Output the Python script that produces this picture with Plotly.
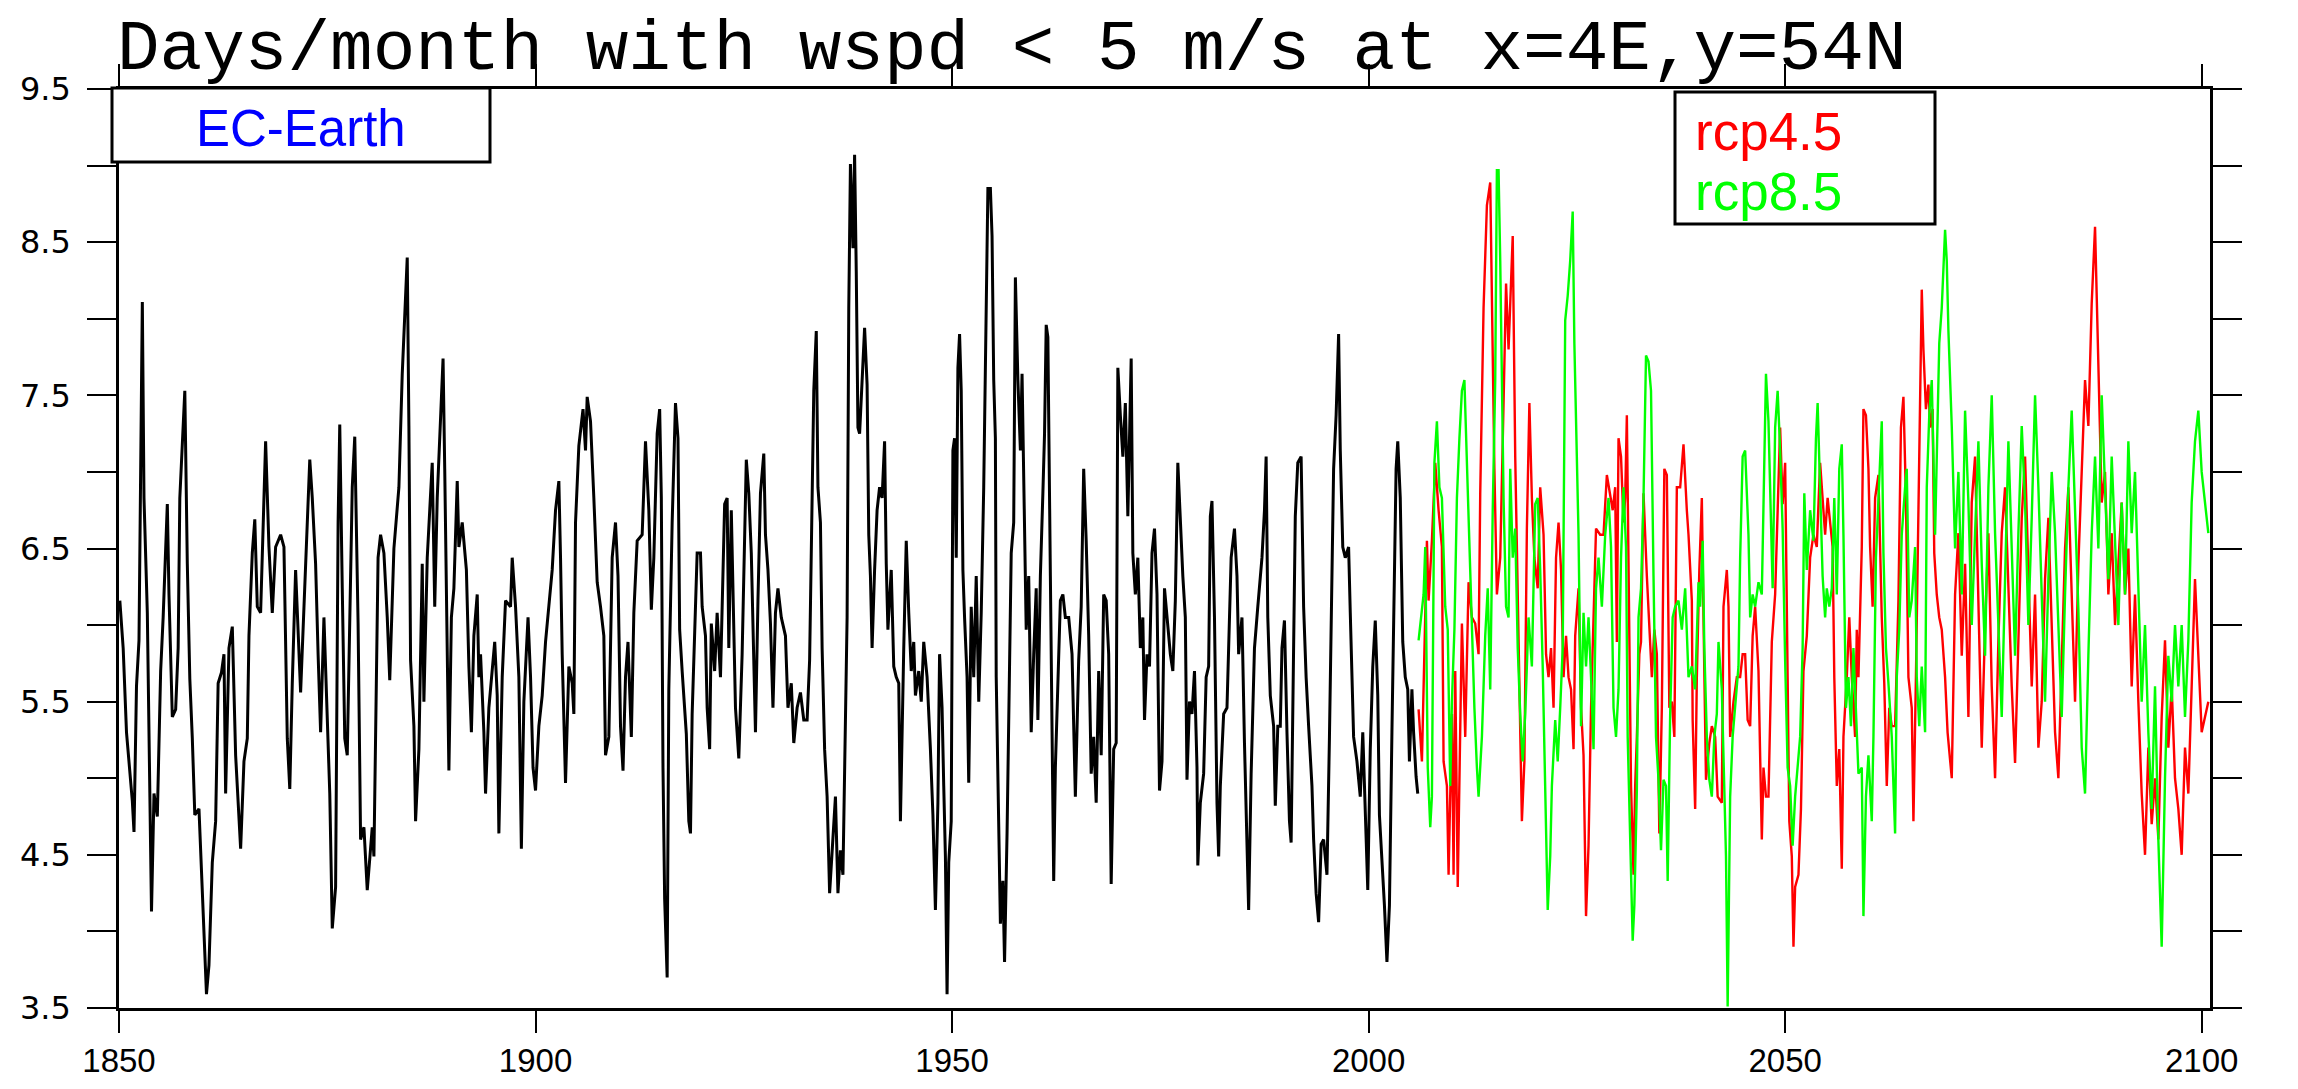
import plotly.graph_objects as go

# ---------------- data ----------------
hist_years = [
    1850.1, 1850.5, 1850.9, 1851.2, 1851.6, 1851.8, 1852.1, 1852.4, 1852.6, 1852.8, 1853.0, 1853.4, 1853.9, 1854.2, 1854.6,
    1855.0, 1855.3, 1855.8, 1856.0, 1856.4, 1856.8, 1857.1, 1857.3, 1857.9, 1858.2, 1858.5, 1858.8, 1859.1, 1859.6, 1859.9,
    1860.2, 1860.5, 1860.8, 1861.2, 1861.6, 1861.9, 1862.3, 1862.6, 1862.8, 1863.2, 1863.6, 1864.0, 1864.6, 1865.0, 1865.4,
    1865.6, 1866.0, 1866.3, 1866.6, 1867.0, 1867.6, 1868.0, 1868.4, 1868.8, 1869.4, 1869.8, 1870.2, 1870.5, 1870.8, 1871.2,
    1871.8, 1872.2, 1872.9, 1873.2, 1873.6, 1873.9, 1874.2, 1874.6, 1875.0, 1875.3, 1875.6, 1876.0, 1876.3, 1876.5, 1876.8,
    1877.1, 1877.4, 1877.7, 1878.0, 1878.3, 1878.5, 1878.7, 1879.0, 1879.4, 1879.8, 1880.4, 1880.6, 1880.8, 1881.1, 1881.4,
    1881.8, 1882.2, 1882.5, 1883.0, 1883.6, 1884.0, 1884.6, 1884.8, 1885.0, 1885.4, 1885.6, 1886.0, 1886.2, 1886.4, 1886.6,
    1887.0, 1887.6, 1887.9, 1888.2, 1888.6, 1888.9, 1889.1, 1889.3, 1889.6, 1889.9, 1890.2, 1890.6, 1890.8, 1891.2, 1891.7,
    1892.0, 1892.3, 1892.6, 1893.0, 1893.2, 1893.4, 1893.8, 1894.0, 1894.4, 1894.8, 1895.1, 1895.4, 1895.6, 1896.0, 1896.4,
    1897.0, 1897.2, 1897.6, 1898.0, 1898.3, 1898.6, 1899.1, 1899.4, 1899.7, 1900.0, 1900.4, 1900.8, 1901.2, 1901.6, 1902.0,
    1902.4, 1902.8, 1903.0, 1903.2, 1903.6, 1904.0, 1904.4, 1904.6, 1904.8, 1905.2, 1905.7, 1906.0, 1906.2, 1906.6, 1907.0,
    1907.4, 1907.8, 1908.2, 1908.4, 1908.8, 1909.2, 1909.6, 1909.9, 1910.2, 1910.5, 1910.8, 1911.1, 1911.5, 1911.8, 1912.2,
    1912.8, 1913.2, 1913.6, 1913.9, 1914.2, 1914.6, 1914.9, 1915.1, 1915.3, 1915.5, 1915.8, 1916.0, 1916.4, 1916.8, 1917.1,
    1917.3, 1917.6, 1918.1, 1918.4, 1918.6, 1918.8, 1919.1, 1919.4, 1919.8, 1920.0, 1920.4, 1920.6, 1920.9, 1921.1, 1921.5,
    1921.8, 1922.2, 1922.7, 1923.0, 1923.2, 1923.5, 1923.8, 1924.0, 1924.4, 1924.8, 1925.3, 1925.6, 1925.9, 1926.2, 1926.4,
    1926.7, 1927.0, 1927.4, 1927.6, 1927.9, 1928.2, 1928.5, 1928.8, 1929.1, 1929.5, 1930.0, 1930.3, 1930.7, 1931.0, 1931.4,
    1931.8, 1932.2, 1932.6, 1932.9, 1933.1, 1933.4, 1933.7, 1933.9, 1934.2, 1934.4, 1934.7, 1935.0, 1935.3, 1935.6, 1936.0,
    1936.3, 1936.6, 1936.9, 1937.1, 1937.4, 1937.6, 1937.8, 1938.1, 1938.3, 1938.5, 1938.7, 1938.9, 1939.2, 1939.5, 1939.8,
    1940.0, 1940.2, 1940.4, 1940.7, 1941.0, 1941.3, 1941.6, 1941.9, 1942.1, 1942.3, 1942.7, 1943.0, 1943.3, 1943.6, 1943.8,
    1944.2, 1944.5, 1944.8, 1945.1, 1945.4, 1945.6, 1946.0, 1946.3, 1946.6, 1947.0, 1947.4, 1947.7, 1948.0, 1948.3, 1948.5,
    1948.8, 1949.0, 1949.2, 1949.4, 1949.6, 1949.9, 1950.1, 1950.3, 1950.5, 1950.7, 1950.9, 1951.1, 1951.3, 1951.5, 1951.8,
    1952.0, 1952.3, 1952.6, 1952.9, 1953.2, 1953.5, 1953.8, 1954.1, 1954.3, 1954.6, 1954.8, 1955.0, 1955.2, 1955.3, 1955.6,
    1955.8, 1956.1, 1956.3, 1956.6, 1956.9, 1957.1, 1957.4, 1957.6, 1957.9, 1958.2, 1958.4, 1958.6, 1958.9, 1959.2, 1959.5,
    1959.8, 1960.1, 1960.3, 1960.6, 1960.9, 1961.1, 1961.3, 1961.5, 1961.8, 1962.0, 1962.2, 1962.4, 1962.7, 1963.0, 1963.3,
    1963.6, 1964.0, 1964.4, 1964.8, 1965.2, 1965.5, 1965.8, 1966.1, 1966.4, 1966.7, 1967.0, 1967.3, 1967.6, 1967.9, 1968.2,
    1968.5, 1968.8, 1969.1, 1969.4, 1969.7, 1969.9, 1970.2, 1970.5, 1970.8, 1971.1, 1971.5, 1971.7, 1972.0, 1972.3, 1972.6,
    1972.9, 1973.1, 1973.4, 1973.7, 1974.0, 1974.3, 1974.6, 1974.9, 1975.2, 1975.5, 1975.9, 1976.2, 1976.5, 1976.8, 1977.1,
    1977.4, 1977.7, 1978.0, 1978.2, 1978.5, 1978.8, 1979.1, 1979.4, 1979.5, 1979.8, 1980.2, 1980.5, 1980.8, 1981.0, 1981.2,
    1981.5, 1981.8, 1982.0, 1982.2, 1982.6, 1983.0, 1983.3, 1983.5, 1983.9, 1984.2, 1984.4, 1984.8, 1985.1, 1985.4, 1985.6,
    1985.9, 1986.3, 1986.7, 1987.2, 1987.5, 1987.7, 1987.9, 1988.2, 1988.6, 1988.8, 1989.1, 1989.4, 1989.6, 1989.9, 1990.2,
    1990.5, 1990.7, 1990.9, 1991.2, 1991.5, 1991.9, 1992.2, 1992.5, 1992.8, 1993.2, 1993.4, 1993.7, 1994.0, 1994.3, 1994.6,
    1995.0, 1995.3, 1995.5, 1995.8, 1996.1, 1996.4, 1996.6, 1996.9, 1997.2, 1997.6, 1997.8, 1998.2, 1998.6, 1999.0, 1999.3,
    1999.6, 1999.9, 2000.2, 2000.5, 2000.8, 2001.1, 2001.3, 2001.6, 2001.9, 2002.2, 2002.5, 2002.8, 2003.1, 2003.3, 2003.5,
    2003.8, 2004.1, 2004.4, 2004.7, 2004.9, 2005.2, 2005.4, 2005.7, 2005.9,
]
hist_values = [
    6.16, 5.85, 5.30, 5.10, 4.85, 4.65, 5.60, 5.90, 6.87, 8.11, 6.83, 6.08, 4.13, 4.90, 4.75,
    5.70, 6.05, 6.79, 6.20, 5.40, 5.45, 5.85, 6.83, 7.53, 6.40, 5.65, 5.26, 4.76, 4.80, 4.37,
    3.90, 3.59, 3.78, 4.45, 4.72, 5.62, 5.69, 5.81, 4.90, 5.85, 5.99, 5.15, 4.54, 5.11, 5.26,
    5.93, 6.47, 6.69, 6.12, 6.08, 7.20, 6.51, 6.08, 6.51, 6.59, 6.51, 5.26, 4.93, 5.62, 6.36,
    5.56, 6.16, 7.08, 6.83, 6.40, 5.81, 5.30, 6.05, 5.30, 4.90, 4.02, 4.29, 6.67, 7.31, 6.24,
    5.26, 5.15, 6.00, 6.90, 7.23, 6.71, 6.01, 4.60, 4.68, 4.27, 4.68, 4.49, 5.30, 6.44, 6.59,
    6.47, 6.05, 5.64, 6.50, 6.90, 7.64, 8.40, 7.30, 5.77, 5.34, 4.72, 5.19, 5.89, 6.40, 5.50,
    6.44, 7.06, 6.12, 6.83, 7.31, 7.74, 7.02, 6.12, 5.05, 6.05, 6.24, 6.94, 6.51, 6.67, 6.36,
    5.73, 5.30, 5.93, 6.20, 5.66, 5.81, 5.30, 4.90, 5.46, 5.73, 5.89, 5.54, 4.64, 5.66, 6.16,
    6.12, 6.44, 6.12, 5.66, 4.54, 5.50, 6.05, 5.66, 5.07, 4.92, 5.34, 5.54, 5.89, 6.12, 6.36,
    6.75, 6.94, 6.44, 5.81, 4.97, 5.73, 5.62, 5.42, 6.67, 7.17, 7.41, 7.14, 7.49, 7.33, 6.83,
    6.28, 6.12, 5.93, 5.15, 5.27, 6.44, 6.67, 6.32, 5.34, 5.05, 5.66, 5.89, 5.27, 6.08, 6.55,
    6.59, 7.20, 6.75, 6.10, 6.44, 7.25, 7.41, 6.83, 5.07, 4.21, 3.70, 5.58, 6.67, 7.45, 7.22,
    5.97, 5.70, 5.29, 4.72, 4.64, 5.42, 5.93, 6.47, 6.47, 6.12, 5.93, 5.46, 5.19, 6.01, 5.70,
    6.08, 5.66, 6.79, 6.83, 5.85, 6.75, 5.93, 5.46, 5.13, 5.81, 7.08, 6.86, 6.47, 5.66, 5.30,
    6.16, 6.86, 7.12, 6.59, 6.36, 6.01, 5.46, 6.08, 6.24, 6.05, 5.93, 5.46, 5.62, 5.23, 5.46,
    5.56, 5.38, 5.38, 5.77, 6.47, 7.53, 7.92, 6.90, 6.67, 5.85, 5.19, 4.88, 4.25, 4.56, 4.88,
    4.25, 4.53, 4.37, 4.95, 6.05, 8.07, 9.01, 8.46, 9.07, 8.31, 7.29, 7.25, 7.60, 7.94, 7.57,
    6.59, 6.32, 5.85, 6.36, 6.75, 6.90, 6.83, 7.20, 6.40, 5.97, 6.36, 5.73, 5.66, 5.62, 4.72,
    5.85, 6.55, 6.08, 5.70, 5.89, 5.54, 5.70, 5.50, 5.89, 5.66, 5.19, 4.76, 4.14, 4.84, 5.81,
    5.46, 4.95, 4.49, 3.59, 4.45, 4.72, 7.14, 7.22, 6.44, 7.68, 7.90, 7.53, 6.36, 6.05, 5.66,
    4.97, 6.12, 5.66, 6.32, 5.50, 6.08, 6.90, 7.99, 8.85, 8.85, 8.54, 7.60, 7.22, 5.66, 4.68,
    4.05, 4.33, 3.80, 4.64, 5.73, 6.47, 6.67, 8.27, 7.60, 7.14, 7.64, 6.83, 5.97, 6.32, 5.30,
    5.81, 6.24, 5.38, 6.32, 6.86, 7.25, 7.96, 7.88, 6.32, 5.27, 4.33, 5.07, 5.58, 6.16, 6.20,
    6.05, 6.05, 5.81, 4.88, 5.77, 6.12, 7.02, 6.55, 5.93, 5.03, 5.27, 4.84, 5.70, 5.15, 6.20,
    6.16, 5.81, 4.31, 5.19, 5.23, 7.68, 7.37, 7.10, 7.45, 6.71, 7.74, 6.47, 6.20, 6.44, 5.85,
    6.05, 5.38, 5.81, 5.73, 6.47, 6.63, 6.20, 4.92, 5.11, 6.24, 5.97, 5.81, 5.70, 6.16, 7.06,
    6.67, 6.32, 6.05, 4.99, 5.50, 5.42, 5.70, 5.07, 4.43, 4.84, 5.03, 5.66, 5.73, 6.71, 6.81,
    6.05, 4.84, 4.49, 4.95, 5.42, 5.46, 6.12, 6.44, 6.63, 6.32, 5.81, 6.05, 5.23, 4.53, 4.14,
    5.03, 5.85, 6.12, 6.44, 6.75, 7.10, 6.05, 5.54, 5.34, 4.82, 5.34, 5.34, 5.85, 6.03, 5.30,
    4.72, 4.58, 5.42, 6.71, 7.06, 7.10, 6.12, 5.66, 5.34, 4.95, 4.60, 4.25, 4.06, 4.57, 4.60,
    4.37, 5.27, 5.93, 7.02, 7.37, 7.90, 7.14, 6.51, 6.44, 6.51, 6.08, 5.27, 5.11, 4.88, 5.30,
    4.84, 4.27, 5.19, 5.73, 6.03, 5.54, 4.76, 4.49, 4.17, 3.80, 4.17, 5.30, 6.24, 7.02, 7.20,
    6.83, 5.89, 5.66, 5.58, 5.11, 5.58, 5.30, 5.01, 4.90,
]

rcp45_years = [
    2006.0, 2006.4, 2007.0, 2007.2, 2007.6, 2008.0, 2008.4, 2008.8, 2009.0, 2009.4, 2009.6, 2010.0, 2010.2, 2010.4, 2010.7,
    2011.0, 2011.2, 2011.6, 2012.0, 2012.4, 2012.8, 2013.2, 2013.4, 2013.8, 2014.2, 2014.6, 2014.9, 2015.1, 2015.4, 2015.8,
    2016.2, 2016.5, 2016.8, 2017.0, 2017.3, 2017.6, 2017.9, 2018.2, 2018.4, 2018.7, 2019.0, 2019.3, 2019.6, 2019.9, 2020.3,
    2020.6, 2021.0, 2021.3, 2021.6, 2021.9, 2022.2, 2022.5, 2022.8, 2023.1, 2023.4, 2023.7, 2024.0, 2024.3, 2024.6, 2024.8,
    2025.2, 2025.5, 2025.8, 2026.1, 2026.4, 2026.7, 2027.0, 2027.3, 2027.8, 2028.2, 2028.6, 2029.0, 2029.3, 2029.6, 2029.8,
    2030.0, 2030.3, 2030.6, 2030.8, 2031.0, 2031.2, 2031.5, 2031.8, 2032.0, 2032.2, 2032.5, 2032.7, 2033.0, 2033.4, 2033.7,
    2034.0, 2034.3, 2034.6, 2034.9, 2035.2, 2035.5, 2035.8, 2036.1, 2036.4, 2036.7, 2037.0, 2037.4, 2037.8, 2038.2, 2038.4,
    2038.8, 2038.9, 2039.2, 2039.4, 2039.7, 2040.0, 2040.2, 2040.5, 2040.9, 2041.2, 2041.6, 2041.9, 2042.4, 2042.6, 2043.0,
    2043.2, 2043.4, 2043.8, 2044.2, 2044.6, 2044.9, 2045.2, 2045.5, 2045.8, 2046.1, 2046.4, 2046.8, 2047.2, 2047.4, 2047.7,
    2048.0, 2048.4, 2048.8, 2049.2, 2049.4, 2049.7, 2050.0, 2050.3, 2050.5, 2050.8, 2051.0, 2051.2, 2051.6, 2051.9, 2052.2,
    2052.6, 2053.0, 2053.4, 2053.8, 2054.2, 2054.5, 2054.8, 2055.1, 2055.4, 2055.7, 2055.9, 2056.2, 2056.5, 2056.8, 2057.0,
    2057.4, 2057.7, 2058.0, 2058.4, 2058.6, 2058.8, 2059.2, 2059.4, 2059.7, 2060.0, 2060.2, 2060.5, 2060.8, 2061.2, 2061.6,
    2061.9, 2062.2, 2062.5, 2062.8, 2063.2, 2063.6, 2063.9, 2064.2, 2064.5, 2064.8, 2065.2, 2065.4, 2065.7, 2066.0, 2066.4,
    2066.6, 2066.9, 2067.2, 2067.4, 2067.7, 2067.9, 2068.2, 2068.5, 2068.8, 2069.2, 2069.5, 2070.0, 2070.4, 2070.8, 2071.2,
    2071.6, 2072.0, 2072.4, 2072.8, 2073.2, 2073.6, 2074.0, 2074.4, 2074.8, 2075.2, 2075.6, 2076.0, 2076.4, 2076.8, 2077.2,
    2077.6, 2078.0, 2078.4, 2078.8, 2079.2, 2079.6, 2080.0, 2080.4, 2080.8, 2081.2, 2081.6, 2082.0, 2082.4, 2082.8, 2083.2,
    2083.6, 2084.0, 2084.4, 2084.8, 2085.2, 2085.6, 2086.0, 2086.4, 2086.8, 2087.2, 2087.6, 2088.0, 2088.4, 2088.8, 2089.2,
    2089.6, 2090.0, 2090.4, 2090.8, 2091.2, 2091.6, 2092.0, 2092.4, 2092.8, 2093.2, 2093.6, 2094.0, 2094.4, 2094.8, 2095.2,
    2095.6, 2096.0, 2096.4, 2096.8, 2097.2, 2097.6, 2098.0, 2098.4, 2098.8, 2099.2, 2099.6, 2100.0, 2100.8,
]
rcp45_values = [
    5.45, 5.11, 6.55, 6.16, 6.55, 7.06, 6.75, 6.51, 5.11, 4.95, 4.37, 5.42, 4.37, 5.70, 4.29,
    5.27, 6.01, 5.27, 6.28, 6.05, 6.01, 5.81, 6.86, 8.07, 8.74, 8.89, 7.72, 7.02, 6.20, 6.44,
    7.45, 8.23, 7.80, 8.07, 8.54, 7.10, 6.24, 5.19, 4.72, 5.11, 6.63, 7.45, 6.83, 6.44, 6.24,
    6.90, 6.59, 5.81, 5.66, 5.85, 5.46, 6.44, 6.67, 6.36, 5.66, 5.93, 5.66, 5.58, 5.19, 5.93,
    6.24, 5.46, 5.15, 4.10, 4.56, 5.46, 6.12, 6.63, 6.59, 6.59, 6.98, 6.86, 6.75, 6.90, 5.89,
    7.22, 7.10, 6.67, 6.83, 7.37, 6.44, 4.95, 4.37, 4.95, 5.27, 5.81, 5.89, 6.86, 6.32, 5.97,
    5.66, 5.97, 5.81, 4.64, 5.46, 7.02, 6.98, 5.46, 5.50, 5.27, 6.90, 6.90, 7.18, 6.75, 6.59,
    6.16, 5.38, 4.80, 5.66, 6.36, 6.83, 6.05, 4.99, 5.23, 5.34, 5.27, 4.88, 4.84, 6.12, 6.36,
    6.12, 5.27, 5.50, 5.66, 5.66, 5.81, 5.81, 5.38, 5.34, 5.93, 6.12, 5.70, 4.60, 5.07, 4.88,
    4.88, 5.89, 6.20, 6.98, 7.29, 6.79, 7.06, 5.66, 4.72, 4.49, 3.90, 4.29, 4.37, 4.80, 5.70,
    5.93, 6.44, 6.59, 6.51, 7.06, 6.83, 6.59, 6.83, 6.67, 6.51, 5.66, 4.95, 5.19, 4.41, 5.27,
    5.66, 6.05, 5.66, 5.27, 5.97, 5.66, 6.51, 7.41, 7.37, 7.02, 6.51, 6.12, 6.83, 6.98, 6.05,
    5.62, 4.95, 5.46, 5.34, 5.34, 6.16, 7.29, 7.49, 6.83, 5.66, 5.46, 4.72, 5.66, 6.83, 8.19,
    7.80, 7.41, 7.57, 7.29, 7.41, 6.47, 6.20, 6.05, 5.97, 5.66, 5.30, 5.00, 6.20, 6.60, 5.80,
    6.40, 5.40, 6.80, 7.10, 6.20, 5.20, 6.00, 6.60, 5.60, 5.00, 5.90, 6.60, 6.90, 6.20, 5.60,
    5.10, 6.00, 6.70, 7.10, 6.40, 5.60, 6.20, 5.20, 5.50, 6.30, 6.70, 6.00, 5.30, 5.00, 5.80,
    6.50, 6.90, 6.20, 5.50, 6.40, 7.00, 7.60, 7.30, 8.10, 8.60, 7.60, 6.80, 7.00, 6.20, 6.60,
    6.00, 6.40, 6.80, 6.20, 6.50, 5.60, 6.20, 5.50, 4.90, 4.50, 5.20, 4.70, 5.00, 4.60, 5.40,
    5.90, 5.20, 5.60, 5.00, 4.80, 4.50, 5.20, 4.90, 5.60, 6.30, 5.80, 5.30, 5.50,
]

rcp85_years = [
    2006.0, 2006.6, 2006.8, 2007.1, 2007.4, 2007.6, 2007.9, 2008.2, 2008.5, 2008.8, 2009.2, 2009.5, 2009.8, 2010.0, 2010.3,
    2010.6, 2010.9, 2011.2, 2011.5, 2011.8, 2012.1, 2012.4, 2012.7, 2013.0, 2013.2, 2013.6, 2014.0, 2014.3, 2014.6, 2014.9,
    2015.2, 2015.4, 2015.6, 2015.8, 2016.0, 2016.2, 2016.5, 2016.8, 2017.0, 2017.3, 2017.6, 2017.9, 2018.2, 2018.5, 2018.8,
    2019.2, 2019.6, 2020.0, 2020.3, 2020.6, 2020.9, 2021.2, 2021.5, 2021.8, 2022.0, 2022.4, 2022.7, 2023.0, 2023.3, 2023.6,
    2023.9, 2024.2, 2024.5, 2024.7, 2025.0, 2025.2, 2025.5, 2025.8, 2026.1, 2026.4, 2026.7, 2027.0, 2027.3, 2027.6, 2028.0,
    2028.4, 2028.8, 2029.1, 2029.4, 2029.7, 2030.0, 2030.3, 2030.6, 2030.9, 2031.1, 2031.4, 2031.7, 2031.9, 2032.2, 2032.4,
    2032.7, 2033.0, 2033.3, 2033.6, 2033.9, 2034.2, 2034.5, 2034.8, 2035.1, 2035.4, 2035.7, 2035.9, 2036.2, 2036.5, 2036.8,
    2037.2, 2037.6, 2038.0, 2038.4, 2038.8, 2039.2, 2039.6, 2039.8, 2040.1, 2040.3, 2040.6, 2040.9, 2041.2, 2041.5, 2041.8,
    2042.0, 2042.4, 2042.6, 2042.9, 2043.1, 2043.4, 2043.7, 2044.0, 2044.4, 2044.6, 2044.9, 2045.2, 2045.6, 2045.8, 2046.1,
    2046.4, 2046.8, 2047.2, 2047.4, 2047.7, 2048.0, 2048.2, 2048.5, 2048.8, 2049.1, 2049.4, 2049.7, 2050.0, 2050.3, 2050.6,
    2050.9, 2051.2, 2051.5, 2051.8, 2052.1, 2052.3, 2052.6, 2053.0, 2053.4, 2053.7, 2053.9, 2054.2, 2054.5, 2054.8, 2055.0,
    2055.3, 2055.6, 2055.9, 2056.2, 2056.5, 2056.8, 2057.0, 2057.3, 2057.6, 2057.9, 2058.2, 2058.5, 2058.8, 2059.2, 2059.4,
    2059.7, 2060.0, 2060.4, 2060.6, 2060.9, 2061.2, 2061.6, 2061.8, 2062.1, 2062.4, 2062.8, 2063.2, 2063.4, 2063.7, 2064.0,
    2064.4, 2064.6, 2064.9, 2065.2, 2065.6, 2065.8, 2066.1, 2066.4, 2066.8, 2067.0, 2067.3, 2067.6, 2068.0, 2068.2, 2068.5,
    2068.8, 2069.2, 2069.4, 2069.6, 2070.0, 2070.4, 2070.8, 2071.2, 2071.6, 2072.0, 2072.4, 2072.8, 2073.2, 2073.6, 2074.0,
    2074.4, 2074.8, 2075.2, 2075.6, 2076.0, 2076.4, 2076.8, 2077.2, 2077.6, 2078.0, 2078.4, 2078.8, 2079.2, 2079.6, 2080.0,
    2080.4, 2080.8, 2081.2, 2081.6, 2082.0, 2082.4, 2082.8, 2083.2, 2083.6, 2084.0, 2084.4, 2084.8, 2085.2, 2085.6, 2086.0,
    2086.4, 2086.8, 2087.2, 2087.6, 2088.0, 2088.4, 2088.8, 2089.2, 2089.6, 2090.0, 2090.4, 2090.8, 2091.2, 2091.6, 2092.0,
    2092.4, 2092.8, 2093.2, 2093.6, 2094.0, 2094.4, 2094.8, 2095.2, 2095.6, 2096.0, 2096.4, 2096.8, 2097.2, 2097.6, 2098.0,
    2098.4, 2098.8, 2099.2, 2099.6, 2100.0, 2100.8,
]
rcp85_values = [
    5.90, 6.20, 6.51, 5.07, 4.68, 4.88, 7.06, 7.33, 6.90, 6.83, 6.12, 5.97, 4.95, 5.50, 5.97,
    6.83, 7.22, 7.53, 7.60, 7.06, 6.47, 6.05, 5.46, 5.07, 4.88, 5.27, 5.93, 6.24, 5.58, 6.75,
    7.60, 8.97, 8.97, 8.38, 7.60, 6.83, 6.12, 6.05, 7.02, 6.44, 6.63, 5.85, 5.42, 5.11, 5.42,
    6.05, 5.73, 6.79, 6.83, 6.36, 5.73, 4.95, 4.14, 4.49, 4.95, 5.38, 5.11, 5.46, 5.85, 7.99,
    8.15, 8.38, 8.70, 7.84, 7.06, 6.59, 5.34, 6.08, 5.73, 6.05, 5.66, 5.19, 6.24, 6.44, 6.12,
    6.59, 6.83, 6.51, 5.46, 5.27, 5.58, 6.44, 6.90, 6.51, 5.27, 4.49, 3.94, 4.17, 4.92, 6.05,
    6.24, 6.83, 7.76, 7.72, 7.53, 6.32, 5.27, 4.99, 4.53, 4.99, 4.95, 4.33, 5.42, 6.05, 6.12,
    6.16, 5.97, 6.24, 5.66, 5.73, 5.58, 6.28, 6.12, 6.55, 5.85, 5.27, 4.99, 4.88, 5.27, 5.42,
    5.89, 5.58, 5.19, 4.49, 3.51, 4.88, 5.27, 5.46, 5.73, 6.44, 7.10, 7.14, 6.59, 6.05, 6.20,
    6.12, 6.28, 6.20, 6.83, 7.64, 7.33, 6.83, 6.24, 7.29, 7.53, 7.14, 6.63, 5.77, 5.07, 4.95,
    4.56, 4.88, 5.07, 5.27, 5.85, 6.86, 6.36, 6.75, 6.55, 7.22, 7.45, 6.83, 6.32, 6.05, 6.24,
    6.12, 6.24, 6.83, 6.20, 7.02, 7.18, 6.59, 5.46, 5.66, 5.34, 5.85, 5.46, 5.03, 5.07, 4.10,
    4.88, 5.15, 4.72, 5.27, 6.44, 6.83, 7.33, 6.47, 5.85, 5.62, 5.27, 4.64, 5.66, 5.97, 6.59,
    6.90, 7.02, 6.05, 6.16, 6.51, 5.66, 5.34, 5.73, 5.30, 6.90, 7.37, 7.60, 6.59, 7.14, 7.84,
    8.07, 8.58, 8.38, 7.92, 7.30, 6.50, 7.00, 6.20, 7.40, 6.80, 6.00, 6.60, 7.20, 6.40, 5.80,
    6.90, 7.50, 6.60, 6.00, 5.40, 6.30, 7.20, 6.50, 5.80, 6.60, 7.30, 6.80, 6.00, 6.70, 7.50,
    6.90, 6.20, 5.50, 6.30, 7.00, 6.60, 6.00, 5.40, 6.20, 6.90, 7.40, 6.80, 6.10, 5.20, 4.90,
    5.80, 6.60, 7.10, 6.50, 7.50, 6.90, 6.30, 7.10, 6.50, 6.00, 6.80, 6.20, 7.20, 6.60, 7.00,
    6.20, 5.50, 6.00, 5.30, 4.80, 5.60, 4.60, 3.90, 5.00, 5.80, 5.50, 6.00, 5.60, 6.00, 5.40,
    5.90, 6.80, 7.20, 7.40, 7.00, 6.60,
]

x_tick_values = [1850, 1900, 1950, 2000, 2050, 2100]
x_tick_labels = ["1850", "1900", "1950", "2000", "2050", "2100"]
y_tick_values = [3.5, 4.0, 4.5, 5.0, 5.5, 6.0, 6.5, 7.0, 7.5, 8.0, 8.5, 9.0, 9.5]
y_tick_labels = ["3.5", "", "4.5", "", "5.5", "", "6.5", "", "7.5", "", "8.5", "", "9.5"]

title_text = "Days/month with wspd < 5 m/s at x=4E,y=54N"
model_label = "EC-Earth"
scenario_labels = ["rcp4.5", "rcp8.5"]

# ---------------- figure ----------------
# the page body keeps its default 8 px margin, so the figure is drawn 8 px
# in from the window edge; sizes below are in window pixels minus that offset
OFF = 8
W, H = 2298 - 2 * OFF, 1089 - 2 * OFF
PLOT_L, PLOT_R, PLOT_T, PLOT_B = 119, 2210, 89, 1008          # window pixels
ML, MR, MT, MB = PLOT_L - OFF, W - (PLOT_R - OFF), PLOT_T - OFF, H - (PLOT_B - OFF)

fig = go.Figure()
fig.add_trace(go.Scatter(x=hist_years, y=hist_values, mode="lines",
                         line=dict(color="black", width=3), showlegend=False, hoverinfo="skip"))
fig.add_trace(go.Scatter(x=rcp45_years, y=rcp45_values, mode="lines",
                         line=dict(color="#ff0000", width=2.4), showlegend=False, hoverinfo="skip"))
fig.add_trace(go.Scatter(x=rcp85_years, y=rcp85_values, mode="lines",
                         line=dict(color="#00ff00", width=2.4), showlegend=False, hoverinfo="skip"))

pw = PLOT_R - PLOT_L
ph = PLOT_B - PLOT_T


def px_x(p):
    return (p - PLOT_L) / pw


def px_y(p):
    return (PLOT_B - p) / ph


fig.update_layout(
    width=W, height=H,
    margin=dict(l=ML, r=MR, t=MT, b=MB, pad=0, autoexpand=False),
    paper_bgcolor="white", plot_bgcolor="white",
    showlegend=False,
    xaxis=dict(range=[1850, 2101], tickmode="array", tickvals=x_tick_values, ticktext=x_tick_labels,
               ticks="outside", ticklen=22, tickwidth=1.5, tickcolor="black",
               showline=True, linewidth=2.5, linecolor="black", mirror="ticks",
               showgrid=False, zeroline=False, ticklabelstandoff=0, automargin=False,
               tickfont=dict(family="Liberation Sans Narrow, Liberation Sans, Arial", size=33, color="black")),
    yaxis=dict(range=[3.5, 9.5], tickmode="array", tickvals=y_tick_values, ticktext=y_tick_labels,
               ticks="outside", ticklen=29, tickwidth=1.5, tickcolor="black",
               showline=True, linewidth=2.5, linecolor="black", mirror="ticks",
               showgrid=False, zeroline=False, ticklabelstandoff=10, automargin=False,
               tickfont=dict(family="DejaVu Sans, Verdana, sans-serif", size=32, color="black")),
)

# title: box top kept just inside the figure
fig.add_annotation(text=title_text, xref="paper", yref="paper", x=px_x(116), y=px_y(OFF + 1),
                   xanchor="left", yanchor="top", showarrow=False, borderpad=0,
                   font=dict(family="Liberation Mono, Courier New, monospace", size=71, color="black"))

# EC-Earth box
fig.add_shape(type="rect", xref="paper", yref="paper",
              x0=px_x(112), x1=px_x(490), y0=px_y(162), y1=px_y(88),
              line=dict(color="black", width=3), fillcolor="white", layer="above")
fig.add_annotation(text=model_label, xref="paper", yref="paper", x=px_x(301), y=px_y(128),
                   xanchor="center", yanchor="middle", showarrow=False,
                   font=dict(family="Liberation Sans, Arial, sans-serif", size=51, color="#0000ff"))

# scenario box
fig.add_shape(type="rect", xref="paper", yref="paper",
              x0=px_x(1675), x1=px_x(1935), y0=px_y(224), y1=px_y(92),
              line=dict(color="black", width=3), fillcolor="white", layer="above")
fig.add_annotation(text=scenario_labels[0], xref="paper", yref="paper", x=px_x(1693), y=px_y(131),
                   xanchor="left", yanchor="middle", showarrow=False,
                   font=dict(family="Liberation Sans, Arial, sans-serif", size=53, color="#ff0000"))
fig.add_annotation(text=scenario_labels[1], xref="paper", yref="paper", x=px_x(1693), y=px_y(191),
                   xanchor="left", yanchor="middle", showarrow=False,
                   font=dict(family="Liberation Sans, Arial, sans-serif", size=53, color="#00ff00"))

fig.write_html("out.html")
